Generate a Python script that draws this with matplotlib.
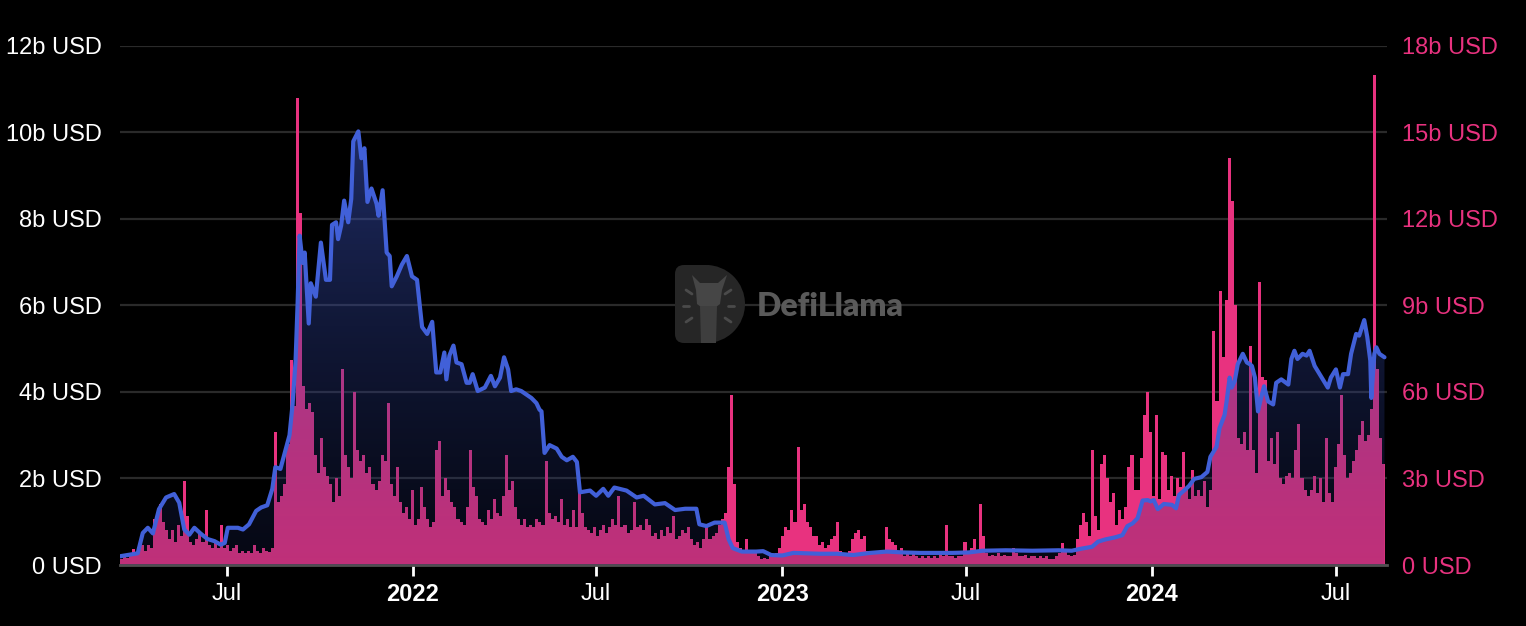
import matplotlib
matplotlib.use("Agg")
import matplotlib.pyplot as plt
import matplotlib.dates as mdates
import numpy as np
import pandas as pd
from matplotlib.path import Path
from matplotlib.patches import FancyBboxPatch, Wedge, Polygon

plt.rcParams['font.family'] = ['Liberation Sans', 'DejaVu Sans']

# ---------------- data ----------------
tvl_dates = [
    "2021-03-17", "2021-04-04", "2021-04-09", "2021-04-14", "2021-04-19", "2021-04-25",
    "2021-05-02", "2021-05-10", "2021-05-15", "2021-05-20", "2021-05-25", "2021-05-30",
    "2021-06-05", "2021-06-12", "2021-06-19", "2021-06-25", "2021-06-29", "2021-07-02",
    "2021-07-12", "2021-07-17", "2021-07-23", "2021-07-30", "2021-08-04", "2021-08-10",
    "2021-08-15", "2021-08-18", "2021-08-23", "2021-08-27", "2021-09-01", "2021-09-04",
    "2021-09-07", "2021-09-09", "2021-09-11", "2021-09-14", "2021-09-16", "2021-09-20",
    "2021-09-22", "2021-09-27", "2021-10-02", "2021-10-07", "2021-10-11", "2021-10-13",
    "2021-10-17", "2021-10-19", "2021-10-22", "2021-10-25", "2021-10-29", "2021-11-01",
    "2021-11-03", "2021-11-08", "2021-11-11", "2021-11-14", "2021-11-17", "2021-11-21",
    "2021-11-26", "2021-11-28", "2021-12-02", "2021-12-06", "2021-12-09", "2021-12-11",
    "2021-12-16", "2021-12-21", "2021-12-26", "2021-12-31", "2022-01-05", "2022-01-10",
    "2022-01-15", "2022-01-20", "2022-01-24", "2022-01-28", "2022-02-01", "2022-02-03",
    "2022-02-06", "2022-02-10", "2022-02-13", "2022-02-18", "2022-02-23", "2022-02-26",
    "2022-03-01", "2022-03-06", "2022-03-13", "2022-03-19", "2022-03-23", "2022-03-28",
    "2022-04-01", "2022-04-05", "2022-04-08", "2022-04-13", "2022-04-18", "2022-04-23",
    "2022-04-28", "2022-05-03", "2022-05-06", "2022-05-08", "2022-05-11", "2022-05-16",
    "2022-05-23", "2022-05-28", "2022-06-02", "2022-06-08", "2022-06-12", "2022-06-15",
    "2022-06-25", "2022-07-01", "2022-07-08", "2022-07-13", "2022-07-19", "2022-07-31",
    "2022-08-10", "2022-08-17", "2022-08-28", "2022-09-07", "2022-09-17", "2022-09-27",
    "2022-10-08", "2022-10-11", "2022-10-18", "2022-10-26", "2022-11-05", "2022-11-09",
    "2022-11-13", "2022-11-22", "2022-12-06", "2022-12-13", "2022-12-21", "2023-01-01",
    "2023-01-12", "2023-02-07", "2023-02-24", "2023-03-12", "2023-03-29", "2023-04-14",
    "2023-05-01", "2023-05-17", "2023-06-02", "2023-06-18", "2023-07-04", "2023-07-18",
    "2023-08-10", "2023-09-05", "2023-10-01", "2023-10-14", "2023-10-24", "2023-11-03",
    "2023-11-09", "2023-11-16", "2023-11-26", "2023-12-03", "2023-12-08", "2023-12-13",
    "2023-12-18", "2023-12-23", "2023-12-28", "2023-12-31", "2024-01-03", "2024-01-07",
    "2024-01-13", "2024-01-21", "2024-01-25", "2024-01-28", "2024-02-02", "2024-02-07",
    "2024-02-12", "2024-02-19", "2024-02-25", "2024-02-28", "2024-03-05", "2024-03-08",
    "2024-03-13", "2024-03-15", "2024-03-18", "2024-03-20", "2024-03-23", "2024-03-26",
    "2024-03-31", "2024-04-04", "2024-04-07", "2024-04-09", "2024-04-12", "2024-04-15",
    "2024-04-18", "2024-04-21", "2024-04-25", "2024-04-30", "2024-05-03", "2024-05-08",
    "2024-05-15", "2024-05-18", "2024-05-21", "2024-05-24", "2024-05-29", "2024-06-02",
    "2024-06-05", "2024-06-10", "2024-06-17", "2024-06-23", "2024-06-26", "2024-07-01",
    "2024-07-05", "2024-07-08", "2024-07-13", "2024-07-16", "2024-07-21", "2024-07-24",
    "2024-07-29", "2024-08-01", "2024-08-04", "2024-08-05", "2024-08-08", "2024-08-10",
    "2024-08-13", "2024-08-18",
]
tvl_values = [
    0.20, 0.27, 0.74, 0.86, 0.73, 1.29,
    1.56, 1.64, 1.44, 0.82, 0.70, 0.86,
    0.73, 0.60, 0.55, 0.47, 0.51, 0.86,
    0.86, 0.82, 0.94, 1.25, 1.33, 1.38,
    1.76, 2.26, 2.22, 2.57, 3.00, 3.71,
    4.72, 6.05, 7.61, 6.98, 7.22, 5.58,
    6.51, 6.20, 7.45, 6.59, 6.59, 7.86,
    7.92, 7.53, 7.84, 8.42, 7.92, 8.46,
    9.79, 10.02, 9.40, 9.63, 8.39, 8.70,
    8.35, 8.07, 8.66, 7.22, 7.14, 6.44,
    6.67, 6.94, 7.14, 6.67, 6.59, 5.50,
    5.34, 5.62, 4.45, 4.45, 4.91, 4.29,
    4.84, 5.07, 4.68, 4.64, 4.21, 4.21,
    4.41, 4.02, 4.10, 4.37, 4.13, 4.33,
    4.80, 4.52, 4.02, 4.06, 4.02, 3.94,
    3.86, 3.74, 3.59, 3.55, 2.59, 2.77,
    2.69, 2.50, 2.42, 2.50, 2.38, 1.68,
    1.72, 1.60, 1.76, 1.60, 1.79, 1.72,
    1.56, 1.60, 1.40, 1.43, 1.27, 1.30,
    1.30, 0.94, 0.90, 0.98, 0.98, 0.59,
    0.39, 0.31, 0.31, 0.32, 0.23, 0.22,
    0.28, 0.26, 0.26, 0.23, 0.28, 0.31,
    0.29, 0.28, 0.28, 0.28, 0.29, 0.33,
    0.34, 0.33, 0.34, 0.33, 0.38, 0.42,
    0.54, 0.59, 0.64, 0.69, 0.90, 0.96,
    1.08, 1.49, 1.50, 1.47, 1.50, 1.29,
    1.41, 1.39, 1.31, 1.62, 1.72, 1.83,
    1.99, 2.03, 2.15, 2.50, 2.73, 3.16,
    3.47, 3.78, 4.33, 4.10, 4.25, 4.64,
    4.88, 4.68, 4.64, 4.60, 4.33, 3.55,
    3.86, 4.13, 3.78, 3.71, 4.21, 4.29,
    4.17, 4.76, 4.95, 4.76, 4.88, 4.84,
    4.95, 4.60, 4.33, 4.10, 4.33, 4.52,
    4.10, 4.41, 4.41, 4.88, 5.34, 5.30,
    5.66, 5.27, 4.72, 3.86, 4.88, 5.03,
    4.88, 4.80,
]

# volume (right axis, b USD), one value per 3-day period from volume_start
volume_start = "2021-03-17"
volume_period_days = 3
volume_values = [
    0.2, 0.3, 0.25, 0.35, 0.55, 0.4, 0.6, 0.7, 0.5, 0.7,
    0.6, 1.6, 1.7, 2.1, 1.5, 1.2, 0.9, 1.2, 0.8, 1.4,
    1.0, 2.9, 1.7, 0.8, 0.7, 0.9, 1.1, 0.8, 1.9, 0.7,
    0.6, 0.8, 0.6, 1.4, 0.6, 0.7, 0.5, 0.6, 0.7, 0.4,
    0.5, 0.4, 0.5, 0.4, 0.7, 0.5, 0.4, 0.6, 0.5, 0.45,
    0.6, 4.6, 2.2, 2.4, 2.8, 4.2, 7.1, 5.5, 16.2, 12.2,
    6.2, 5.4, 5.6, 5.3, 3.8, 3.2, 4.4, 3.4, 3.1, 2.8,
    2.2, 3.0, 2.4, 6.8, 3.8, 3.4, 3.0, 6.0, 4.0, 3.6,
    3.8, 3.2, 3.4, 2.8, 2.6, 2.9, 3.8, 3.6, 5.6, 2.8,
    2.4, 3.4, 2.2, 1.8, 2.0, 1.6, 2.6, 1.4, 1.6, 2.7,
    2.0, 1.6, 1.3, 1.5, 4.0, 4.3, 2.4, 3.0, 2.6, 2.2,
    2.0, 1.6, 1.5, 1.4, 2.0, 4.0, 2.7, 2.4, 1.6, 1.5,
    1.4, 1.9, 1.6, 2.3, 1.8, 1.7, 2.4, 3.8, 2.6, 2.9,
    2.0, 1.6, 1.4, 1.6, 1.3, 1.4, 1.3, 1.6, 1.5, 1.4,
    3.6, 1.8, 1.6, 1.7, 1.5, 2.3, 1.4, 1.6, 1.3, 1.9,
    1.3, 2.6, 1.8, 1.3, 1.2, 1.1, 1.3, 1.0, 1.2, 1.4,
    1.1, 1.3, 1.6, 1.4, 2.4, 1.3, 1.4, 1.1, 1.2, 2.2,
    1.3, 1.4, 1.2, 1.6, 1.4, 1.0, 1.1, 0.9, 1.2, 1.0,
    1.3, 1.1, 1.7, 0.9, 1.0, 1.2, 1.1, 1.3, 0.9, 0.7,
    0.8, 0.6, 0.9, 1.3, 0.9, 1.0, 1.1, 1.4, 1.6, 1.8,
    3.4, 5.9, 2.8, 0.8, 0.6, 0.5, 0.9, 0.5, 0.4, 0.4,
    0.3, 0.2, 0.25, 0.2, 0.3, 0.3, 0.4, 0.6, 1.0, 1.3,
    1.2, 1.9, 1.5, 4.1, 1.9, 2.1, 1.5, 1.3, 1.0, 1.0,
    0.7, 0.8, 0.6, 0.7, 0.9, 1.0, 1.5, 0.5, 0.4, 0.3,
    0.5, 0.9, 1.1, 1.2, 0.9, 1.0, 0.5, 0.4, 0.5, 0.4,
    0.4, 0.5, 1.3, 0.9, 0.8, 0.7, 0.4, 0.6, 0.3, 0.4,
    0.3, 0.4, 0.3, 0.25, 0.3, 0.25, 0.3, 0.25, 0.3, 0.25,
    0.4, 0.3, 1.4, 0.3, 0.3, 0.25, 0.3, 0.3, 0.8, 0.5,
    0.6, 0.9, 0.4, 2.1, 1.0, 0.4, 0.3, 0.35, 0.3, 0.4,
    0.3, 0.35, 0.3, 0.3, 0.6, 0.4, 0.3, 0.3, 0.35, 0.25,
    0.3, 0.3, 0.25, 0.3, 0.25, 0.3, 0.2, 0.2, 0.3, 0.4,
    0.75, 0.5, 0.35, 0.3, 0.35, 0.9, 1.4, 1.8, 1.5, 1.0,
    4.0, 1.7, 1.2, 3.5, 3.8, 3.0, 2.2, 2.5, 1.4, 1.9,
    1.6, 2.0, 3.4, 3.8, 2.6, 2.6, 3.7, 5.2, 6.0, 4.6,
    2.4, 5.2, 2.3, 3.9, 3.8, 2.6, 3.1, 2.4, 3.0, 2.7,
    3.9, 2.6, 2.3, 3.3, 2.4, 2.6, 2.4, 2.9, 2.0, 2.6,
    8.1, 5.7, 9.5, 7.2, 9.2, 14.1, 12.6, 9.0, 4.4, 4.2,
    4.6, 4.0, 7.6, 4.0, 3.2, 9.8, 6.5, 6.4, 3.6, 4.4,
    3.5, 4.6, 3.0, 2.8, 3.1, 3.2, 3.0, 4.0, 4.9, 3.0,
    2.6, 2.4, 2.6, 3.1, 2.5, 3.0, 2.2, 4.4, 2.5, 2.2,
    3.4, 4.2, 5.9, 3.8, 3.0, 3.2, 3.6, 4.0, 4.5, 5.0,
    4.3, 4.5, 5.4, 17.0, 6.8, 4.4, 3.5,
]

left_ticks = [0, 2, 4, 6, 8, 10, 12]
left_labels = ["0 USD", "2b USD", "4b USD", "6b USD", "8b USD", "10b USD", "12b USD"]
right_ticks = [0, 3, 6, 9, 12, 15, 18]
right_labels = ["0 USD", "3b USD", "6b USD", "9b USD", "12b USD", "15b USD", "18b USD"]
x_tick_dates = ["2021-07-01", "2022-01-01", "2022-07-01", "2023-01-01",
                "2023-07-01", "2024-01-01", "2024-07-01"]
x_tick_labels = ["Jul", "2022", "Jul", "2023", "Jul", "2024", "Jul"]
x_start = "2021-03-17"
x_end = "2024-08-20"

# ---------------- style ----------------
BG = "#000000"
PINK = "#e8327f"
BLUE = "#4160d8"
GRID = "#2a2a2a"
W, H = 1526, 626

fig = plt.figure(figsize=(W / 100, H / 100), dpi=100, facecolor=BG)
rect = [119.5 / W, (H - 565) / H, (1386.5 - 119.5) / W, (565 - 45.7) / H]

ax2 = fig.add_axes(rect)                 # volume, right axis, bottom layer
ax = fig.add_axes(rect, sharex=ax2)      # TVL, left axis, top layer
ax2.set_facecolor(BG)
ax.patch.set_visible(False)

# volume bars
vol_dates = pd.date_range(volume_start, periods=len(volume_values),
                          freq=f"{volume_period_days}D")
ax2.bar(vol_dates, volume_values, width=volume_period_days, align="edge",
        color=PINK, linewidth=0, zorder=2)

# TVL area (gradient) + line
tdates = pd.to_datetime(tvl_dates)
xn = mdates.date2num(tdates)
verts = [(xn[0], 0)] + list(zip(xn, tvl_values)) + [(xn[-1], 0), (xn[0], 0)]
area_path = Path(verts)
n = 256
f = np.linspace(0, 1, n)[:, None]
top_c = np.array([66, 94, 212]) / 255.0
bot_c = np.array([30, 40, 100]) / 255.0
rgb = bot_c[None, :] + (top_c - bot_c)[None, :] * f
alpha = 0.20 + 0.27 * f
img = np.hstack([rgb, alpha]).reshape(n, 1, 4)
im = ax.imshow(img, extent=[xn[0], xn[-1], 0, max(tvl_values)], origin="lower",
               aspect="auto", zorder=2, interpolation="bilinear")
im.set_clip_path(area_path, ax.transData)
ax.plot(tdates, tvl_values, color=BLUE, lw=3.0, zorder=3,
        solid_joinstyle="round", solid_capstyle="round")

# limits
ax.set_xlim(pd.Timestamp(x_start), pd.Timestamp(x_end))
ax.set_ylim(0, 12)
ax2.set_ylim(0, 18)

# grid on bottom layer
ax2.set_axisbelow(True)
ax2.set_yticks(right_ticks)
ax2.yaxis.grid(True, color=GRID, lw=1.6)
ax2.xaxis.grid(False)

# y ticks
ax.set_yticks(left_ticks)
ax.set_yticklabels(left_labels)
ax.tick_params(axis="y", length=0, pad=13, labelsize=17, labelcolor="white")
ax2.yaxis.tick_right()
ax2.set_yticklabels(right_labels)
ax2.tick_params(axis="y", length=0, pad=11.5, labelsize=17, labelcolor=PINK)

# x ticks
ax.xaxis.set_visible(False)
ax2.set_xticks(pd.to_datetime(x_tick_dates))
ax2.set_xticklabels(x_tick_labels)
ax2.tick_params(axis="x", colors="white", length=8, width=2, pad=5, labelsize=17)
for lab in ax2.get_xticklabels():
    if lab.get_text() != "Jul":
        lab.set_fontweight("bold")

for s in ax.spines.values():
    s.set_visible(False)
for k, s in ax2.spines.items():
    if k == "bottom":
        s.set_color("#505050")
        s.set_linewidth(2)
    else:
        s.set_visible(False)

# watermark
wm = fig.add_axes([0, 0, 1, 1])
wm.set_xlim(0, W)
wm.set_ylim(H, 0)
wm.axis("off")
wm.patch.set_visible(False)
wm.add_patch(FancyBboxPatch((675, 265), 40, 78, boxstyle="round,pad=0,rounding_size=9",
                            facecolor="#262626", edgecolor="none"))
wm.add_patch(Wedge((706, 304), 39, -90, 90, facecolor="#262626", edgecolor="none"))
wm.add_patch(Polygon([(692, 275), (700, 283), (718, 283), (727, 275), (722, 290),
                      (720, 304), (712, 310), (705, 310), (697, 304), (696, 290)],
                     closed=True, facecolor="#464646", edgecolor="none"))
wm.add_patch(Polygon([(700, 306), (717, 306), (716, 343), (701, 343)],
                     closed=True, facecolor="#3e3e3e", edgecolor="none"))
for (x1, y1, x2, y2) in [(686, 290, 692, 294), (683, 306, 689, 306), (686, 322, 692, 318),
                         (731, 290, 725, 294), (734, 306, 728, 306), (731, 322, 725, 318)]:
    wm.plot([x1, x2], [y1, y2], color="#4a4a4a", lw=2, solid_capstyle="round")
wm.text(757, 307, "DefiLlama", color="#5a5a5a", fontsize=23, fontweight="heavy",
        family=["Lato", "DejaVu Sans"], va="center", ha="left")

fig.savefig("out.png", dpi=100, facecolor=BG)
